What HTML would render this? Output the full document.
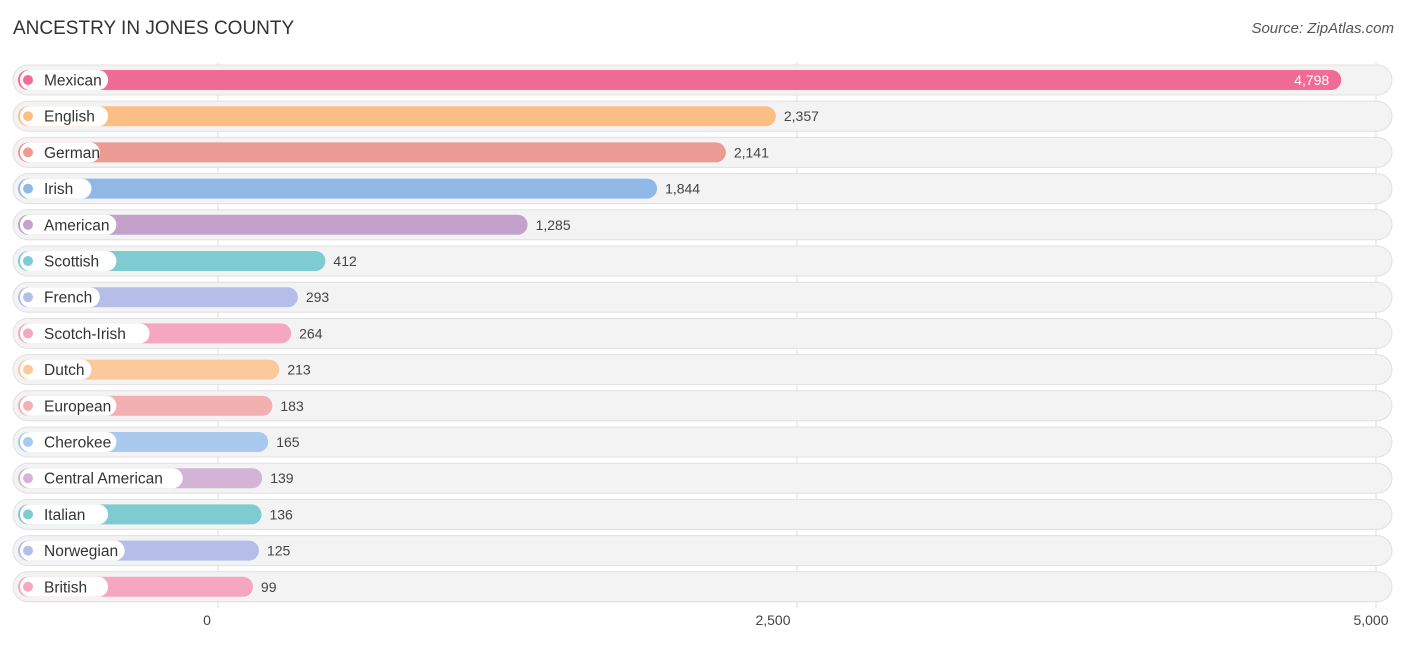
<!DOCTYPE html>
<html><head><meta charset="utf-8"><style>
body{margin:0;background:#fff;font-family:"Liberation Sans",sans-serif;}
svg text{font-family:"Liberation Sans",sans-serif;}
</style></head><body>
<svg id="chart" width="1406" height="644" xmlns="http://www.w3.org/2000/svg">
<text x="13" y="34" font-size="19" fill="#333">ANCESTRY IN JONES COUNTY</text>
<text x="1394" y="33" font-size="15" fill="#555" font-style="italic" text-anchor="end">Source: ZipAtlas.com</text>
<g id="grid"></g><g id="rows"></g><g id="ticks"></g>
</svg>
<script>
const categories=["Mexican","English","German","Irish","American","Scottish","French","Scotch-Irish","Dutch","European","Cherokee","Central American","Italian","Norwegian","British"];
const values=[4798,2357,2141,1844,1285,412,293,264,213,183,165,139,136,125,99];
const colors=["#f06b95","#fbbf86","#eb9a94","#8fb8e6","#c4a1cb","#7ecbd2","#b5bde9","#f5a6c0","#fcc99a","#f2b0b0","#a9c9ef","#d3b3d6","#7ecbd2","#b5bde9","#f5a6c0"];
const tickValues=[0,2500,5000];
const tickLabels=["0","2,500","5,000"];
const NS="http://www.w3.org/2000/svg";
function x(v){return 218+v*(1376-218)/5000;}
function y(i){return 80+i*36.2;}
function mk(t,a,p){const e=document.createElementNS(NS,t);for(const k in a)e.setAttribute(k,a[k]);p.appendChild(e);return e;}
const grid=document.getElementById('grid'),rows=document.getElementById('rows'),ticks=document.getElementById('ticks');
tickValues.forEach((v,i)=>{
 const l=mk('line',{x1:x(v),x2:x(v),y1:62,y2:608,stroke:'#ddd','stroke-width':1},grid);
 
 
 const off=(i===0)?11:((i===2)?5:24);
 const t=mk('text',{x:x(v)-off,y:625,'font-size':14,fill:'#444','text-anchor':'middle'},ticks);
 t.textContent=tickLabels[i];
 
 
});
categories.forEach((c,i)=>{
 const cy=y(i);
 const g=mk('g',{},rows);
 
 
 const bg=mk('rect',{x:13,y:cy-15,width:1379,height:30,rx:15,fill:'#f3f3f3',stroke:'#e0e0e0','stroke-width':1},g);
 
 
 const end=x(values[i])+12;
 const bar=mk('rect',{x:18,y:cy-10,width:end-18,height:20,rx:10,fill:colors[i]},g);
 
 
 const pw=c.length*8.3+30;
 const pill=mk('rect',{x:20,y:cy-10,width:pw,height:20,rx:10,fill:'#fff'},g);
 
 
 const dot=mk('circle',{cx:28,cy:cy,r:5,fill:colors[i]},g);
 
 
 const lt=mk('text',{x:44,y:cy+5.5,'font-size':15.5,fill:'#333'},g);
 lt.textContent=c;
 
 
 const inside=(i===0);
 const vt=mk('text',{x:inside?end-12:end+8,y:cy+5,'font-size':14,fill:inside?'#fff':'#444','text-anchor':inside?'end':'start'},g);
 vt.textContent=values[i].toLocaleString('en-US');
 
 
});
</script>
</body></html>
